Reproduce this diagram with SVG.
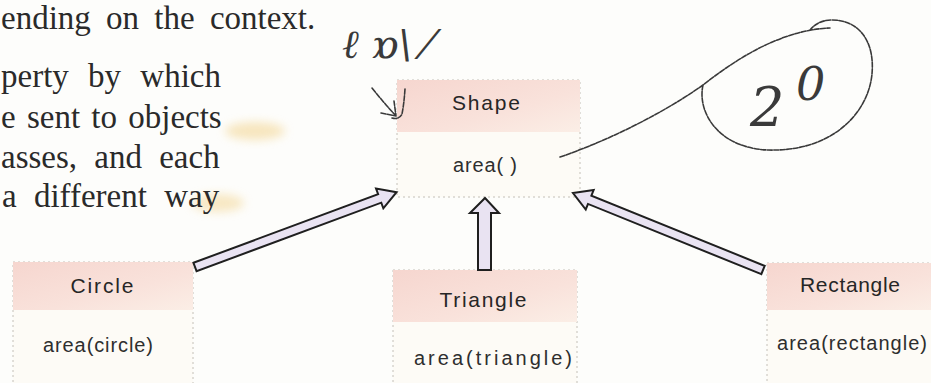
<svg xmlns="http://www.w3.org/2000/svg" width="931" height="383" viewBox="0 0 931 383">
<defs>
<style>
.page{font-family:"Liberation Serif","Times New Roman",serif;font-size:33px;fill:#2a2a2a}
.lbl{font-family:"Liberation Sans",Arial,sans-serif;font-size:21px;fill:#262626;text-anchor:middle}
.meth{font-family:"Liberation Sans",Arial,sans-serif;font-size:20px;fill:#2e2e2e;text-anchor:middle}
.hdr{fill:url(#pink)}
.body{fill:#fdfbf6;stroke:#c4c0b8;stroke-width:1;stroke-dasharray:2 3}
.arrow{fill:#e9e3f2;stroke:#1f1f1f;stroke-width:2;stroke-linejoin:miter}
.ink{fill:none;stroke:#3a3a3a;stroke-width:1.6;stroke-linecap:round;stroke-linejoin:round;stroke-dasharray:5 1.5}
.hand{font-family:"DejaVu Serif",serif;font-style:italic;fill:#3a3a3a}
</style>
<linearGradient id="pink" x1="0" y1="0" x2="1" y2="1">
<stop offset="0" stop-color="#f6d6cf"/>
<stop offset="0.6" stop-color="#f9e2db"/>
<stop offset="1" stop-color="#fbeee6"/>
</linearGradient>
<filter id="soft" x="-30%" y="-50%" width="160%" height="200%"><feGaussianBlur stdDeviation="5"/></filter>
</defs>
<rect width="931" height="383" fill="#fdfdfb"/>

<!-- highlighter marks -->
<ellipse cx="255" cy="131" rx="30" ry="9" fill="#f2d38c" opacity="0.55" filter="url(#soft)"/>
<ellipse cx="218" cy="203" rx="26" ry="9" fill="#f2d38c" opacity="0.5" filter="url(#soft)"/>

<!-- page text -->
<g id="page-text">
<text class="page" x="1" y="29" font-size="30" word-spacing="7">ending on the context.</text>
<text class="page" x="1" y="87" word-spacing="11">perty by which</text>
<text class="page" x="1" y="128" word-spacing="3">e sent to objects</text>
<text class="page" x="1" y="168" word-spacing="9">asses, and each</text>
<text class="page" x="2" y="207" word-spacing="9">a different way</text>
</g>

<!-- nodes -->
<g id="node-shape">
<rect class="body" x="397" y="80" width="183" height="117"/>
<rect class="hdr" x="397" y="80" width="183" height="52"/>
<text class="lbl" x="486" y="110" textLength="68">Shape</text>
<text class="meth" x="485" y="172" textLength="64">area( )</text>
</g>
<g id="node-circle">
<rect class="body" x="13" y="262" width="180" height="125"/>
<rect class="hdr" x="13" y="262" width="180" height="48"/>
<text class="lbl" x="102" y="293" textLength="63">Circle</text>
<text class="meth" x="98" y="352" textLength="110">area(circle)</text>
</g>
<g id="node-triangle">
<rect class="body" x="393" y="270" width="184" height="117"/>
<rect class="hdr" x="393" y="270" width="184" height="52"/>
<text class="lbl" x="483" y="307" textLength="87">Triangle</text>
<text class="meth" x="493" y="365" textLength="158">area(triangle)</text>
</g>
<g id="node-rectangle">
<rect class="body" x="767" y="263" width="170" height="124"/>
<rect class="hdr" x="767" y="263" width="170" height="47"/>
<text class="lbl" x="850" y="292" textLength="100">Rectangle</text>
<text class="meth" x="852" y="350" textLength="150">area(rectangle)</text>
</g>

<!-- connectors -->
<g id="connectors">
<polygon class="arrow" transform="translate(195,267) rotate(-20.36)" points="0,-4.5 197,-4.5 197,-10.5 215,0 197,10.5 197,4.5 0,4.5"/>
<polygon class="arrow" transform="translate(763,270) rotate(-157.94)" points="0,-4.5 187,-4.5 187,-10.5 205,0 187,10.5 187,4.5 0,4.5"/>
<polygon class="arrow" points="478,270 478,213 470,213 485,198 499,213 491,213 491,270"/>
</g>

<!-- handwritten annotations -->
<g id="annotations">
<path class="ink" d="M372,88 Q384,103 396,116 M381,113 L396,116 L394,101 M405,89 Q404,104 402,114 Q399,120 392,118"/>
<path class="ink" d="M560,157 C610,140 665,112 703,85 C735,60 780,30 830,28 M703,85 C697,112 718,148 768,150 C830,152 868,115 872,74 C875,40 858,20 832,20 C822,20 815,24 810,30"/>
<text class="hand" x="750" y="126" font-size="54">2</text>
<text class="hand" x="796" y="100" font-size="46">0</text>
<text class="hand" x="342" y="58" font-size="40">ℓ ɒ\ ⁄</text>
</g>
</svg>
